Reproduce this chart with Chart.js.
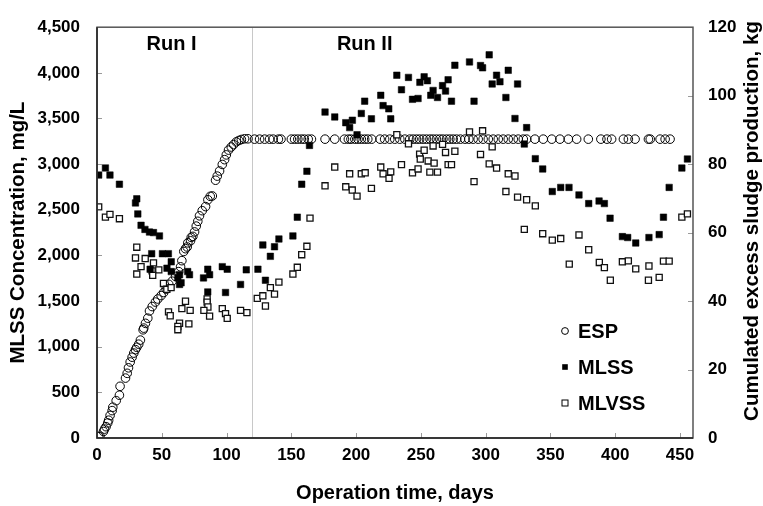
<!DOCTYPE html>
<html><head><meta charset="utf-8">
<script src="https://cdn.jsdelivr.net/npm/chart.js@4.4.0/dist/chart.umd.min.js"></script>
<style>html,body{margin:0;padding:0;background:#fff;}canvas{display:block;}</style>
</head><body>
<canvas id="c" width="763" height="506"></canvas>
<script>
// ---- Tick labels ----
const xTicks = [0,50,100,150,200,250,300,350,400,450];
const leftTicks = [0,500,1000,1500,2000,2500,3000,3500,4000,4500];
const rightTicks = [0,20,40,60,80,100,120];

// ---- ESP (cumulated excess sludge production, kg) ----
const espDays = [1.3,2.3,5,5.8,7,8.3,9,10.1,11.7,12.2,14.8,17.3,17.8,22,23.3,24.3,25.6,27.1,28.4,29.7,30.7,32.2,33.5,35.6,36.1,37.4,39.2,40.5,42.6,45.1,46.9,49.5,51.5,53.4,55.4,58,60.6,63.1,64.5,65.5,67,68.3,69.6,70.1,72.2,72.7,74,75.3,76.6,77.8,79.1,81.2,83.8,85.6,87.4,89,91.5,92.8,94.6,96.7,98.5,99.8,101.5,103.6,105.4,107.5,109.5,111.4,113.9,116.5,
  121.6,125.5,129.4,133.2,136,140,142,150,152.5,155,157.7,160,163,165.5,176,183.5,191,194,196,199,201.5,204,206.6,209,212,218.5,222,226,229.8,233.7,237.6,241.4,244,246.6,249,251.7,254.3,257,259.4,262,264.6,267,269.8,272.3,274.9,277.5,280.5,284,287,290.3,294.2,298,302,305.8,309.7,313.5,317.4,321.3,325.1,329,331.6,338,344.4,351,357.3,363.8,370.2,379.2,388.9,393.6,397.2,406.3,410.1,415.3,425.6,427,434.6,438.5,442.3,451.4,455.7];
const espValues = [0.4,0.5,1.9,2.6,3.3,4.4,5.2,6.6,8.0,9.0,10.9,12.5,15.1,17.5,18.9,20.5,22.2,23.6,24.8,25.8,26.5,27.4,28.6,31.6,32.1,33.5,35.0,37.1,38.4,39.7,40.6,41.6,42.5,43.5,44.9,45.8,47.2,48.6,50.0,51.8,54.5,55.3,55.8,57.0,57.6,58.6,58.9,60.2,61.9,63.3,64.9,66.4,67.6,69.6,70.6,70.7,75.3,76.5,78.0,79.9,81.3,82.7,84.1,85.0,85.7,86.5,86.9,87.2,87.4,87.4,
  87.3,87.3,87.3,87.3,87.3,87.3,87.3,87.3,87.3,87.3,87.3,87.3,87.3,87.3,87.3,87.3,87.3,87.3,87.3,87.3,87.3,87.3,87.3,87.3,87.3,87.3,87.3,87.3,87.3,87.3,87.3,87.3,87.3,87.3,87.3,87.3,87.3,87.3,87.3,87.3,87.3,87.3,87.3,87.3,87.3,87.3,87.3,87.3,87.3,87.3,87.3,87.3,87.3,87.3,87.3,87.3,87.3,87.3,87.3,87.3,87.3,87.3,87.3,87.3,87.3,87.3,87.3,87.3,87.3,87.3,87.3,87.3,87.3,87.3,87.3,87.3,87.3,87.3,87.3];

// ---- MLSS (mg/L) ----
const mlssDays = [1.3,6.5,10,17.3,29.7,30.7,31.5,34,37,40.5,43.6,48.2,42.2,50.5,55.1,57.3,41,54,57.3,63.7,62.4,70,71.4,63.7,64.9,85.5,82.2,86.9,96.7,100.5,85.5,99.2,115.2,110.8,124.2,128,133.8,130,137,140.4,151.2,154.6,158,162,164,176,183.5,192,195,197.1,200.7,204,206.6,211.8,219,220.8,225.2,226.7,231.4,235,240.4,243.5,247.8,249.2,252.5,255,259.4,257.6,262.8,266.7,269,271,273.6,276.2,287.5,291,296,297.6,302.7,308.4,305,311,317.4,315.6,324.6,322.6,331.6,329.8,338.3,344,351.4,357.9,364.3,372,379.5,387.5,391.6,396,405.5,409.6,415.8,426,433.9,437.2,441.6,451.4,455.7];
const mlssValues = [2880,2958,2880,2780,2575,2620,2455,2330,2285,2256,2250,2214,2019,2019,2019,1930,1849,1860,1823,1789,1754,1823,1789,1682,1700,1849,1754,1789,1877,1849,1600,1594,1842,1682,1849,2115,1990,1728,2095,2180,2214,2419,2780,2922,3205,3570,3517,3454,3400,3481,3322,3555,3690,3496,3754,3641,3606,3496,3974,3815,3950,3710,3719,3896,3956,3914,3807,3754,3730,3860,3800,3924,3690,4083,4120,3690,4080,4055,4197,3974,3878,3903,4028,3730,3878,3500,3400,3220,3060,2947,2700,2745,2745,2663,2568,2596,2568,2408,2206,2196,2136,2196,2228,2419,2745,2957,3056];

// ---- MLVSS (mg/L) ----
const mlvssDays = [1.3,6.5,10,17.3,30.7,29.7,37.2,34,30.7,43.6,42.5,47.7,43,51.3,53.9,57.2,68.3,55.2,56.5,65.5,71.9,63.7,62.4,62.4,70.9,85,85,85.6,82.5,86.9,96.7,99.2,100.5,110.8,115.7,123.7,128,130,133.8,137,140.4,151.2,154.6,158,162,164.4,176,183.5,192,197,200.7,195,204,207,211.8,219,220.8,226.7,225.4,231.4,235,240.4,243.5,247.8,249,252.5,249.5,255.6,259.4,260.2,256.9,262.8,266.7,269,276.2,271,273.6,287.5,297.6,291,296,302.7,308.4,305,317.4,322.6,315.6,324.6,331.6,338.3,329.8,344,351.4,357.9,372,379.5,364.5,387.7,391.6,396.2,405.5,410.1,415.8,426,425.6,433.9,437.2,441.6,451.4,455.7];
const mlvssValues = [2532,2419,2450,2402,2090,1972,1966,1877,1796,1919,1831,1842,1781,1693,1629,1647,1498,1381,1339,1417,1398,1257,1222,1186,1250,1523,1488,1435,1398,1335,1417,1363,1310,1398,1374,1530,1558,1446,1647,1576,1707,1796,1870,2008,2100,2408,2763,2968,2752,2716,2650,2894,2894,2905,2735,2968,2894,2915,2844,3322,2994,3223,2905,2947,3109,3152,3056,3035,3199,3011,2912,2912,3216,3128,3141,2994,2994,3354,3365,2809,3106,3003,2957,3189,2894,2870,2700,2639,2610,2543,2285,2238,2168,2185,2224,2062,1905,1923,1866,1728,1930,1940,1852,1884,1728,1760,1937,1937,2419,2455];

const seriesNames = ['ESP','MLSS','MLVSS'];
const runLabels = ['Run I','Run II'];
const rightTitle = 'Cumulated excess sludge production, kg';

function pts(xs, ys){ return xs.map((x,i)=>({x:x, y:ys[i]})); }

const FONT = "'Liberation Sans', Arial, sans-serif";

const decorPlugin = {
  id: 'decor',
  beforeDatasetsDraw(chart){
    const {ctx, chartArea:a, scales} = chart;
    const x = scales.x;
    const px = x.getPixelForValue(120);
    ctx.save();
    ctx.strokeStyle = '#c8c8c8'; ctx.lineWidth = 1;
    ctx.beginPath(); ctx.moveTo(Math.round(px)+0.5, a.top); ctx.lineTo(Math.round(px)+0.5, a.bottom); ctx.stroke();
    ctx.fillStyle = '#000';
    ctx.font = "bold 20px " + FONT;
    ctx.textAlign = 'center'; ctx.textBaseline = 'middle';
    const yl = scales.y.getPixelForValue(4307);
    ctx.fillText(runLabels[0], x.getPixelForValue(57.5), yl);
    ctx.fillText(runLabels[1], x.getPixelForValue(206.6), yl);
    ctx.restore();
  },
  afterDatasetsDraw(chart){
    const {ctx, chartArea:a, scales} = chart;
    ctx.save();
    ctx.strokeStyle = '#9a9a9a'; ctx.lineWidth = 1;
    ctx.beginPath();
    xTicks.forEach(v=>{ if(v===0) return; const p = Math.round(scales.x.getPixelForValue(v))+0.5; ctx.moveTo(p, a.bottom); ctx.lineTo(p, a.bottom-5); });
    leftTicks.forEach(v=>{ if(v===0||v===4500) return; const p = Math.round(scales.y.getPixelForValue(v))+0.5; ctx.moveTo(a.left, p); ctx.lineTo(a.left+5, p); });
    rightTicks.forEach(v=>{ if(v===0||v===120) return; const p = Math.round(scales.y2.getPixelForValue(v))+0.5; ctx.moveTo(a.right, p); ctx.lineTo(a.right-5, p); });
    ctx.stroke();
    ctx.strokeStyle = '#555'; ctx.lineWidth = 1.5;
    ctx.strokeRect(a.left, a.top, a.right-a.left, a.bottom-a.top);
    ctx.strokeStyle = '#222'; ctx.lineWidth = 1.5;
    ctx.beginPath(); ctx.moveTo(a.left, a.top); ctx.lineTo(a.left, a.bottom); ctx.lineTo(a.right, a.bottom); ctx.stroke();
    // legend
    const lx = 565, tx = 578, ys = [331, 367, 403];
    ctx.font = "bold 20px " + FONT;
    ctx.textAlign = 'left'; ctx.textBaseline = 'middle';
    ctx.fillStyle = '#000';
    ctx.lineWidth = 1; ctx.strokeStyle = '#000';
    ctx.beginPath(); ctx.arc(lx, ys[0], 3.4, 0, Math.PI*2); ctx.stroke();
    ctx.fillRect(lx-2.8, ys[1]-2.8, 5.6, 5.6);
    ctx.strokeRect(lx-3, ys[2]-3, 6, 6);
    seriesNames.forEach((n,i)=> ctx.fillText(n, tx, ys[i]+1));
    // right axis title, reading bottom-to-top
    ctx.translate(752, 221);
    ctx.rotate(-Math.PI/2);
    ctx.font = "bold 20.5px " + FONT;
    ctx.textAlign = 'center'; ctx.textBaseline = 'middle';
    ctx.fillText(rightTitle, 0, 0);
    ctx.restore();
  }
};

new Chart(document.getElementById('c'), {
  type: 'scatter',
  data: {
    datasets: [
      { label: seriesNames[0], data: pts(espDays, espValues), yAxisID: 'y2', pointStyle: 'circle', pointRadius: 4.3, borderColor: '#000', backgroundColor: 'rgba(0,0,0,0)', borderWidth: 1, order: 3 },
      { label: seriesNames[1], data: pts(mlssDays, mlssValues), yAxisID: 'y', pointStyle: 'rect', pointRadius: 4.6, borderColor: '#000', backgroundColor: '#000', borderWidth: 0.5, order: 1 },
      { label: seriesNames[2], data: pts(mlvssDays, mlvssValues), yAxisID: 'y', pointStyle: 'rect', pointRadius: 4.3, borderColor: '#111', backgroundColor: '#fff', borderWidth: 1.3, order: 2 }
    ]
  },
  options: {
    responsive: false,
    animation: false,
    devicePixelRatio: 1,
    layout: { padding: { top: 15, left: 0, right: 0, bottom: 0 } },
    plugins: { legend: { display: false }, tooltip: { enabled: false } },
    scales: {
      x: {
        type: 'linear', position: 'bottom', min: 0, max: 460,
        afterFit(s){ s.height = 68; },
        afterBuildTicks(s){ s.ticks = xTicks.map(v=>({value:v})); },
        grid: { display: false, drawTicks: false },
        border: { display: false },
        ticks: { padding: 7, color: '#000', font: { family: FONT, size: 17, weight: 'bold' }, maxRotation: 0 },
        title: { display: true, text: 'Operation time, days', color: '#000', font: { family: FONT, size: 20, weight: 'bold' }, padding: { top: 0, bottom: 1 } }
      },
      y: {
        type: 'linear', position: 'left', min: 0, max: 4500,
        afterFit(s){ s.width = 97; },
        afterBuildTicks(s){ s.ticks = leftTicks.map(v=>({value:v})); },
        grid: { display: false, drawTicks: false },
        border: { display: false },
        ticks: { padding: 17, color: '#000', font: { family: FONT, size: 17, weight: 'bold' }, callback: v => v.toLocaleString('en-US') },
        title: { display: true, text: 'MLSS Concentration, mg/L', color: '#000', font: { family: FONT, size: 20.5, weight: 'bold' }, padding: { top: 6, bottom: 0 } }
      },
      y2: {
        type: 'linear', position: 'right', min: 0, max: 120,
        afterFit(s){ s.width = 70; },
        afterBuildTicks(s){ s.ticks = rightTicks.map(v=>({value:v})); },
        grid: { display: false, drawTicks: false },
        border: { display: false },
        ticks: { padding: 15, color: '#000', font: { family: FONT, size: 17, weight: 'bold' } },
        title: { display: false }
      }
    }
  },
  plugins: [decorPlugin]
});
</script>
</body></html>
